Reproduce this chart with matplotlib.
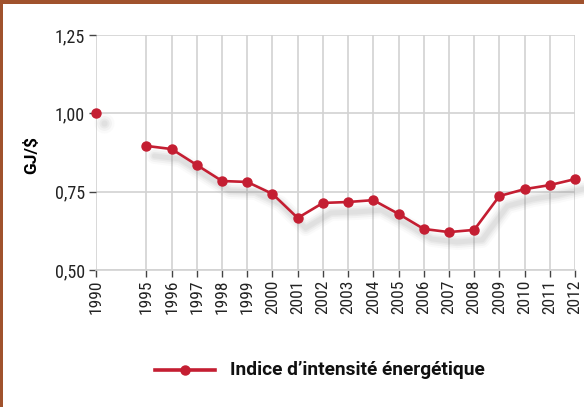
import matplotlib
matplotlib.use("Agg")
import matplotlib.pyplot as plt
import matplotlib.transforms as mtransforms
from matplotlib.patches import Rectangle

years = ["1990", "1995", "1996", "1997", "1998", "1999", "2000", "2001", "2002",
         "2003", "2004", "2005", "2006", "2007", "2008", "2009", "2010", "2011", "2012"]
values = [1.00, 0.896, 0.886, 0.835, 0.784, 0.781, 0.743, 0.666, 0.714,
          0.717, 0.723, 0.679, 0.631, 0.621, 0.628, 0.736, 0.758, 0.771, 0.790]
# 1990 is separated from 1995 by one empty slot
pos = [0] + list(range(2, 2 + len(years) - 1))

red = "#C41E32"
grid = "#D2D2D2"
frame = "#A0522D"
narrow = ["Roboto Condensed", "DejaVu Sans"]
boldf = ["Roboto", "DejaVu Sans"]

fig = plt.figure(figsize=(5.84, 4.07), dpi=100)
ax = fig.add_axes([96 / 584, 1 - 270 / 407, 479 / 584, 235 / 407])

# soft shadow under the series
shift = mtransforms.offset_copy(ax.transData, fig=fig, x=8, y=-10, units="dots")
for lw, a in [(16, 0.04), (12, 0.06), (8, 0.08), (5, 0.08)]:
    ax.plot(pos[1:], values[1:], color="#808080", lw=lw * 0.72, alpha=a,
            transform=shift, solid_capstyle="round", clip_on=False, zorder=2)
    ax.plot(pos[:1], values[:1], "o", color="#808080", ms=lw * 0.9, alpha=a,
            mew=0, transform=shift, clip_on=False, zorder=2)

ax.plot(pos[1:], values[1:], color=red, lw=1.9, marker="o", ms=6.5,
        clip_on=False, zorder=4)
ax.plot(pos[:1], values[:1], color=red, marker="o", ms=6.5, lw=0,
        clip_on=False, zorder=4)

ax.set_xlim(0, pos[-1])
ax.set_ylim(0.5, 1.25)
ax.set_xticks(pos)
ax.set_xticklabels(years, rotation=90, fontsize=12.5, family=narrow, color="#222222")
ax.set_yticks([0.5, 0.75, 1.0, 1.25])
ax.set_yticklabels(["0,50", "0,75", "1,00", "1,25"], fontsize=13, family=narrow,
                   color="#222222")
ax.tick_params(axis="both", length=5, width=1, color="#444444")
ax.tick_params(axis="y", pad=3)
ax.tick_params(axis="x", pad=2)

ax.grid(True, color=grid, lw=1.2)
ax.set_axisbelow(True)
for s in ["top", "right", "left"]:
    ax.spines[s].set_visible(False)
ax.spines["bottom"].set_color(grid)
ax.spines["bottom"].set_linewidth(1.2)
ax.spines["bottom"].set_zorder(1)

fig.text(31 / 584, 1 - 155 / 407, "GJ/$", rotation=90, fontsize=12.5,
         fontweight="bold", family=boldf, ha="center", va="center")

# legend drawn by hand, centred below the chart
ly = 1 - 370 / 407
fig.add_artist(plt.Line2D([155 / 584, 215 / 584], [ly, ly], color=red, lw=2.6))
fig.add_artist(plt.Line2D([185 / 584], [ly], color=red, marker="o", ms=6.5))
fig.text(230 / 584, ly, "Indice d\u2019intensité énergétique", fontsize=13.8,
         fontweight="bold", family=boldf, ha="left", va="center", color="#111111")

# brown frame on the top and left edges
fig.add_artist(Rectangle((0, 1 - 4 / 407), 1, 4 / 407, transform=fig.transFigure,
                         color=frame, lw=0))
fig.add_artist(Rectangle((0, 0), 3 / 584, 1, transform=fig.transFigure,
                         color=frame, lw=0))

fig.savefig("out.png", dpi=100)
